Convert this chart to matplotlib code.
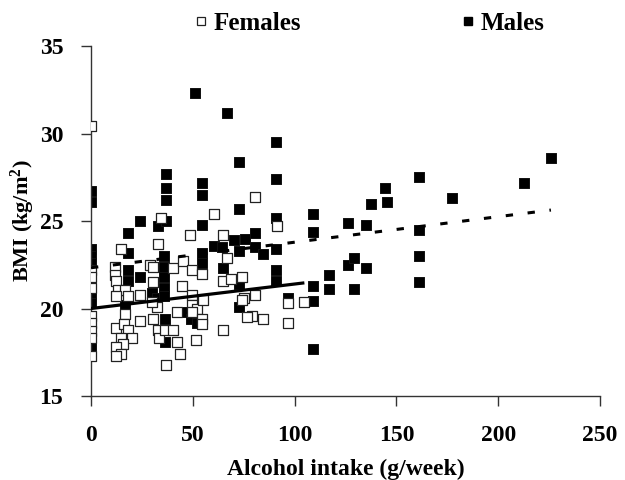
import matplotlib
matplotlib.use("Agg")
import matplotlib.pyplot as plt
from matplotlib.lines import Line2D
import numpy as np

plt.rcParams["font.family"] = ["Liberation Serif", "DejaVu Serif"]
plt.rcParams["font.weight"] = "bold"
plt.rcParams["mathtext.fontset"] = "custom"
plt.rcParams["mathtext.rm"] = "Liberation Serif:bold"
plt.rcParams["mathtext.it"] = "Liberation Serif:bold"
plt.rcParams["mathtext.bf"] = "Liberation Serif:bold"

# Alcohol intake (g/week) and BMI (kg/m^2), women
female_alcohol = [0, 0, 0, 0, 0, 0, 0, 0, 0,
                  11.8, 11.8, 12.1, 13.4, 16.7, 12.1, 18.3, 16.7, 12.1, 16.4, 18.3, 20, 14.7, 15.9, 12.1, 14.7, 12.1, 14.7,
                  24.1, 24.1, 30.6, 30.6, 29, 30.6, 32.4, 30, 33.1, 33.1, 33.4, 36.3, 36.7, 40.4, 40.4, 42.1, 42.1, 43.7,
                  44.5, 45.3, 48.6, 49.5, 49.5, 49.5, 51.9, 49.5, 51.6, 54.4, 54.4, 54.4, 54.9, 34.4,
                  60.6, 64.7, 80.5, 91.2, 66.6, 64.7, 68.6, 74, 80.5, 75.3, 74, 78.9, 76.5, 84.6, 96.6, 64.7, 96.6, 104.8]
female_bmi = [30.45, 22.2, 21.8, 21.2, 19.6, 19.2, 18.7, 18.3, 17.3,
              22.4, 21.9, 21.6, 21.05, 21.05, 20.7, 20.7, 19.7, 18.9, 19.1, 18.8, 18.3, 18.3, 18.0, 17.8, 17.4, 17.3, 23.4,
              20.8, 19.3, 21.5, 19.4, 22.5, 22.4, 20.1, 20.4, 23.7, 18.8, 18.3, 18.8, 16.8, 22.3, 18.8, 19.8, 18.1, 17.4,
              21.3, 22.7, 24.2, 22.2, 20.8, 20.2, 20.0, 19.8, 18.2, 22.0, 19.4, 19.1, 20.5, 25.2,
              25.4, 24.2, 26.4, 24.7, 22.9, 21.6, 21.7, 21.8, 20.8, 20.6, 20.5, 19.6, 19.5, 19.4, 19.2, 18.8, 20.3, 20.35]

# Alcohol intake (g/week) and BMI (kg/m^2), men
male_alcohol = [0, 0, 0, 0, 0, 0, 0, 0, 0, 0, 0,
                18.3, 18.3, 18.3, 18.3, 16.7, 24.1, 24.1, 29.8, 32.2, 32.2, 33.1,
                36, 36, 36, 36, 36, 36.8, 36.8, 36.8, 36.8, 36.3, 36.3, 46, 49, 52, 51.2,
                54.4, 54.4, 54.4, 54.4, 54.4, 60.6, 64.5, 64.7, 66.6,
                70.4, 72.8, 72.8, 72.8, 72.8, 72.8, 75.5, 80.7, 80.7, 84.6,
                90.9, 90.9, 90.9, 90.9, 90.9, 90.9, 96.6,
                109.2, 109.2, 109.2, 109.2, 109.2, 117, 117,
                126.4, 126.4, 129.3, 129.3, 135.1, 135.1, 137.4, 144.4, 145.4,
                161.3, 161.3, 161.3, 161.3, 177.3, 212.8, 225.9]
male_bmi = [26.7, 26.1, 23.4, 23.0, 22.6, 21.5, 21.1, 20.7, 20.3, 18.0, 17.8,
            24.3, 23.2, 22.2, 21.6, 20.2, 25.0, 21.8, 20.9, 20.6, 20.1, 24.7,
            23.0, 22.4, 21.8, 21.2, 20.7, 27.7, 26.9, 26.2, 25.0, 19.4, 18.1, 19.8, 19.4, 19.2, 32.3,
            27.2, 26.5, 24.8, 23.2, 22.6, 23.6, 23.5, 22.3, 31.2,
            23.9, 28.4, 25.7, 23.3, 21.4, 20.1, 24.0, 24.3, 23.5, 23.1,
            29.5, 27.4, 25.2, 23.4, 22.2, 21.6, 20.6,
            25.4, 24.4, 21.3, 20.45, 17.7, 21.9, 21.1,
            24.9, 22.5, 22.9, 21.1, 24.75, 22.3, 26.0, 26.9, 26.1,
            27.5, 24.5, 23.0, 21.5, 26.3, 27.2, 28.6]

# Linear fits (intercept, slope)
female_fit = [20.0, 0.0140]
male_fit = [22.33, 0.0146]

x_ticks = [0, 50, 100, 150, 200, 250]
y_ticks = [15, 20, 25, 30, 35]

fig = plt.figure(figsize=(6.25, 4.8), dpi=100)
ax = fig.add_axes([0.1456, 0.175, 0.8144, 0.729])

ax.scatter(male_alcohol, male_bmi, marker="s", s=46, facecolor="black",
           edgecolor="#111111", linewidths=0.7, zorder=2)
ax.scatter(female_alcohol, female_bmi, marker="s", s=46, facecolor="white",
           edgecolor="#222222", linewidths=0.9, zorder=3)

fx = np.array([min(female_alcohol), max(female_alcohol)])
ax.plot(fx, female_fit[0] + female_fit[1] * fx, color="black", lw=2.3,
        solid_capstyle="butt", zorder=4)
mx = np.array([min(male_alcohol), max(male_alcohol)])
ax.plot(mx, male_fit[0] + male_fit[1] * mx, color="black", lw=2.2,
        dashes=(2.4, 4.8), zorder=4)

ax.set_xlim(0, 250)
ax.set_ylim(15, 35)
ax.set_xticks(x_ticks)
ax.set_yticks(y_ticks)
for s in ["top", "right"]:
    ax.spines[s].set_visible(False)
for s in ["left", "bottom"]:
    ax.spines[s].set_color("#333333")
    ax.spines[s].set_linewidth(1.0)
ax.tick_params(axis="both", direction="out", length=7, width=1.0,
               color="#333333", labelsize=17)
ax.tick_params(axis="x", pad=14)
ax.tick_params(axis="y", pad=13)
for lab in ax.get_xticklabels() + ax.get_yticklabels():
    lab.set_fontweight("bold")

ax.set_xlabel("Alcohol intake (g/week)", fontsize=17, fontweight="bold", labelpad=9)
ax.set_ylabel("BMI (kg/m$^{2}$)", fontsize=16, fontweight="bold")
ax.yaxis.set_label_coords(-0.106, 0.5)

handles = [Line2D([], [], ls="none", marker="s", markersize=6, markerfacecolor="white",
                  markeredgecolor="#222222", markeredgewidth=0.9),
           Line2D([], [], ls="none", marker="s", markersize=6, markerfacecolor="black",
                  markeredgecolor="black")]
fig.legend(handles, ["Females", "Males"], loc="center", bbox_to_anchor=(0.588, 0.952),
           ncol=2, frameon=False, handlelength=0.8, handletextpad=0.1,
           columnspacing=6.3, borderaxespad=0, prop={"weight": "bold", "size": 18})

fig.savefig("out.png", dpi=100)
